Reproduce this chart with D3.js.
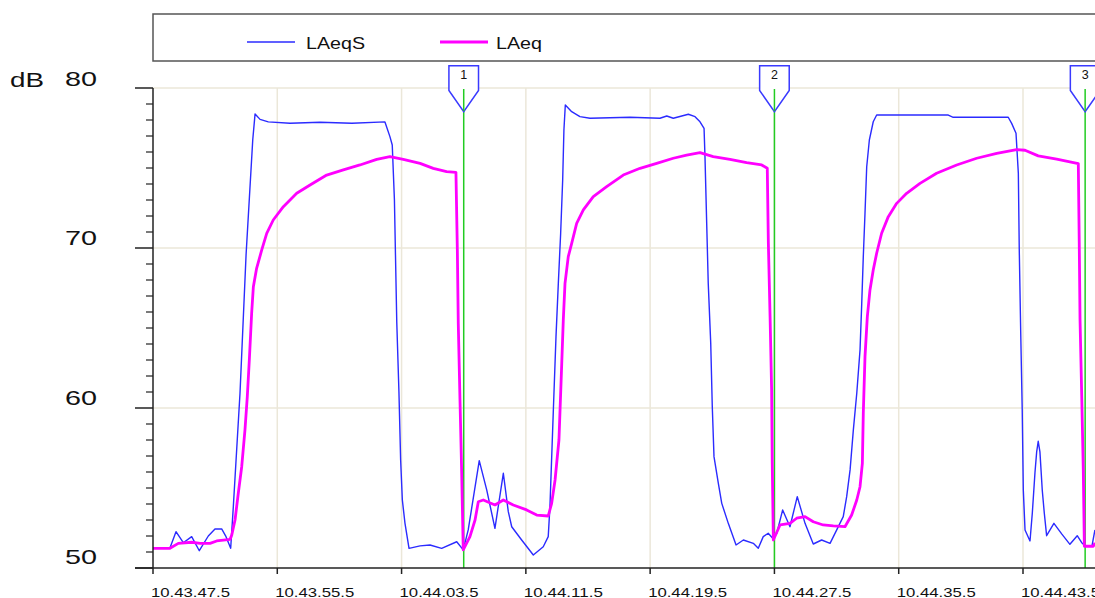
<!DOCTYPE html>
<html>
<head>
<meta charset="utf-8">
<script src="https://cdn.jsdelivr.net/npm/d3@7/dist/d3.min.js"></script>
<style>
  html, body { margin: 0; padding: 0; background: #fff; }
  svg { display: block; }
  text { font-family: "Liberation Sans", Arial, sans-serif; fill: #111; }
</style>
</head>
<body>
<svg id="chart" width="1095" height="598"></svg>
<script>
// ---- Data (time in seconds since 10.43.47.5, level in dB) ----
const xTickValues = [0, 8, 16, 24, 32, 40, 48, 56];
const xTickLabels = ["10.43.47.5","10.43.55.5","10.44.03.5","10.44.11.5","10.44.19.5","10.44.27.5","10.44.35.5","10.44.43.5"];
const yMajorTicks = [50, 60, 70, 80];
const yMinorTicks = [51,52,53,54,55,56,57,58,59,61,62,63,64,65,66,67,68,69,71,72,73,74,75,76,77,78,79];
const seriesNames = ["LAeqS", "LAeq"];
const markerTimes = [20, 40, 60];
const markerLabels = ["1", "2", "3"];

const lAeqS = [
 [0.00,51.25],[1.09,51.25],[1.48,52.27],[1.95,51.58],[2.49,51.96],[2.98,51.08],[3.56,52.00],[3.99,52.44],
 [4.42,52.44],[4.70,51.96],[5.00,51.23],[5.17,53.83],[5.60,60.92],[5.99,69.56],[6.42,76.75],[6.57,78.38],
 [6.89,78.04],[7.42,77.88],[8.82,77.80],[10.75,77.86],[12.8,77.80],[14.93,77.88],[15.25,76.96],[15.40,76.44],
 [15.54,73.00],[15.69,65.39],[15.83,61.02],[15.94,56.75],[16.05,54.25],[16.22,52.79],[16.48,51.23],[17.19,51.38],
 [17.83,51.44],[18.58,51.23],[19.55,51.64],[19.97,51.13],[20.29,52.38],[21.00,56.71],[21.48,54.88],[22.01,52.48],
 [22.55,55.92],[22.87,53.52],[23.09,52.58],[23.73,51.75],[24.48,50.81],[25.12,51.33],[25.44,51.96],[25.55,53.83],
 [25.77,59.88],[25.94,64.46],[26.09,67.79],[26.24,70.92],[26.37,74.25],[26.45,77.38],[26.54,78.94],[26.95,78.52],
 [27.48,78.21],[28.13,78.11],[30.70,78.17],[32.63,78.11],[33.07,78.25],[33.49,78.11],[34.46,78.36],[34.89,78.21],
 [35.21,77.89],[35.47,77.48],[35.53,75.71],[35.64,71.54],[35.74,67.79],[35.90,64.04],[36.00,60.08],[36.11,56.96],
 [36.39,55.29],[36.61,54.04],[37.03,52.79],[37.53,51.44],[38.00,51.75],[38.64,51.54],[38.96,51.23],[39.28,51.96],
 [39.60,52.17],[39.89,51.86],[40.15,52.17],[40.53,53.63],[41.00,52.58],[41.47,54.46],[41.97,52.79],[42.50,51.50],
 [43.04,51.75],[43.58,51.54],[44.01,52.38],[44.43,53.21],[44.65,54.46],[44.87,56.13],[45.08,58.63],[45.30,60.92],
 [45.51,63.63],[45.62,66.54],[45.72,69.46],[45.83,72.17],[45.94,75.08],[46.11,76.75],[46.36,77.89],[46.58,78.31],
 [51.19,78.31],[51.51,78.17],[55.05,78.17],[55.27,77.79],[55.55,77.17],[55.70,74.67],[55.76,69.88],[55.85,64.88],
 [55.95,59.88],[56.02,54.88],[56.13,52.38],[56.45,51.69],[56.60,53.44],[56.77,55.95],[56.88,57.26],[56.98,57.92],
 [57.09,57.26],[57.24,54.86],[57.37,53.44],[57.52,52.02],[57.99,52.79],[58.49,52.13],[59.02,51.48],[59.49,52.02],
 [59.78,51.58],[60.01,51.38],[60.44,51.38],[60.63,52.38]
];

const lAeq = [
 [0.00,51.23],[1.09,51.23],[1.63,51.54],[2.49,51.61],[3.03,51.54],[3.67,51.54],[4.10,51.69],[4.96,51.79],
 [5.07,52.06],[5.28,53.00],[5.49,54.67],[5.71,56.33],[5.92,58.63],[6.07,60.71],[6.20,63.00],[6.35,65.92],
 [6.46,67.58],[6.67,68.73],[7.00,69.88],[7.32,70.92],[7.74,71.75],[8.39,72.58],[9.25,73.42],[10.11,73.94],
 [11.18,74.56],[12.25,74.88],[13.32,75.19],[14.40,75.54],[15.25,75.71],[16.11,75.54],[17.19,75.29],[18.04,74.98],
 [18.90,74.77],[19.50,74.73],[19.59,69.88],[19.65,65.29],[19.76,60.50],[19.87,55.92],[19.97,51.13],[20.40,51.96],
 [20.73,53.00],[20.94,54.14],[21.26,54.25],[22.01,53.94],[22.55,54.25],[23.19,53.94],[24.05,53.63],[24.70,53.31],
 [25.44,53.25],[25.66,54.04],[25.88,55.50],[26.13,58.00],[26.31,62.79],[26.41,65.50],[26.52,67.79],[26.73,69.46],
 [26.95,70.29],[27.27,71.54],[27.70,72.38],[28.34,73.21],[29.20,73.83],[30.27,74.56],[31.35,74.98],[32.42,75.29],
 [33.49,75.61],[34.35,75.81],[35.21,75.96],[36.06,75.71],[37.14,75.54],[38.21,75.33],[39.18,75.19],[39.54,74.98],
 [39.61,70.29],[39.72,65.71],[39.82,61.13],[39.86,56.54],[39.93,51.75],[40.36,52.69],[41.00,52.79],[41.43,53.11],
 [41.97,53.21],[42.50,52.89],[43.14,52.69],[43.79,52.63],[44.54,52.58],[44.97,53.31],[45.30,54.25],[45.51,55.08],
 [45.66,56.54],[45.72,59.67],[45.83,63.21],[45.98,65.71],[46.15,67.38],[46.36,68.63],[46.58,69.67],[46.90,70.92],
 [47.33,71.96],[47.87,72.79],[48.51,73.42],[49.37,74.04],[50.44,74.67],[51.73,75.19],[53.02,75.61],[54.31,75.92],
 [55.59,76.15],[56.13,76.11],[56.98,75.76],[58.17,75.56],[59.56,75.28],[59.62,70.36],[59.67,65.56],[59.78,60.76],
 [59.88,56.17],[59.95,51.36],[60.53,51.36],[60.63,51.58]
];

(function draw() {
  const pL = 153, pR = 1095, pT = 88, pB = 568;
  const svg = d3.select("#chart");

  const x = d3.scaleLinear().domain([0, 56]).range([pL, 1023]);
  const y = d3.scaleLinear().domain([50, 80]).range([pB, pT]);

  const blue = "#2b2bff", magenta = "#ff00ff", green = "#22cc22", grid = "#ebe7d9";

  svg.append("defs").append("clipPath").attr("id", "plot")
    .append("rect").attr("x", pL).attr("y", pT - 1).attr("width", pR - pL).attr("height", pB - pT + 1);

  // gridlines
  svg.append("g").selectAll("line").data(xTickValues.slice(1)).join("line")
    .attr("x1", d => x(d)).attr("x2", d => x(d)).attr("y1", pT).attr("y2", pB)
    .attr("stroke", grid).attr("stroke-width", 1.5);
  svg.append("g").selectAll("line").data(yMajorTicks.slice(1)).join("line")
    .attr("x1", pL).attr("x2", pR).attr("y1", d => y(d)).attr("y2", d => y(d))
    .attr("stroke", grid).attr("stroke-width", 1.5);

  // legend box
  const lg = svg.append("g");
  lg.append("rect").attr("x", 153).attr("y", 14).attr("width", 1000).attr("height", 47)
    .attr("fill", "#fff").attr("stroke", "#555").attr("stroke-width", 1.5);
  const legendItems = [
    {name: seriesNames[0], color: blue, w: 1.4, x0: 247, tx: 306, tl: 59},
    {name: seriesNames[1], color: magenta, w: 2.8, x0: 440, tx: 496, tl: 46}
  ];
  legendItems.forEach(it => {
    lg.append("line").attr("x1", it.x0).attr("x2", it.x0 + 48).attr("y1", 42).attr("y2", 42)
      .attr("stroke", it.color).attr("stroke-width", it.w);
    lg.append("text").attr("x", it.tx).attr("y", 48.5).attr("font-size", 16.5)
      .attr("textLength", it.tl).attr("lengthAdjust", "spacingAndGlyphs").text(it.name);
  });

  // series
  const line = d3.line().x(d => x(d[0])).y(d => y(d[1]));
  const plot = svg.append("g").attr("clip-path", "url(#plot)");

  plot.selectAll("line.mk").data(markerTimes).join("line").attr("class", "mk")
    .attr("x1", d => x(d)).attr("x2", d => x(d)).attr("y1", pT).attr("y2", pB)
    .attr("stroke", green).attr("stroke-width", 1.5);

  plot.append("path").datum(lAeqS).attr("d", line).attr("fill", "none")
    .attr("stroke", blue).attr("stroke-width", 1.4).attr("stroke-linejoin", "round");
  plot.append("path").datum(lAeq).attr("d", line).attr("fill", "none")
    .attr("stroke", magenta).attr("stroke-width", 2.8).attr("stroke-linejoin", "round");

  // axes
  const ax = svg.append("g").attr("stroke", "#222");
  ax.append("line").attr("x1", pL).attr("x2", pL).attr("y1", pT).attr("y2", pB).attr("stroke-width", 1.5);
  ax.append("line").attr("x1", 135).attr("x2", pR).attr("y1", pB).attr("y2", pB).attr("stroke-width", 1.5);
  ax.selectAll("line.maj").data(yMajorTicks).join("line").attr("class", "maj")
    .attr("x1", 135).attr("x2", pL).attr("y1", d => y(d)).attr("y2", d => y(d)).attr("stroke-width", 1.5);
  ax.selectAll("line.min").data(yMinorTicks).join("line").attr("class", "min")
    .attr("x1", 146).attr("x2", pL).attr("y1", d => y(d)).attr("y2", d => y(d)).attr("stroke-width", 1.2);
  ax.selectAll("line.xt").data(xTickValues).join("line").attr("class", "xt")
    .attr("x1", d => x(d)).attr("x2", d => x(d)).attr("y1", pB).attr("y2", pB + 6).attr("stroke-width", 1.5);

  // y labels
  svg.append("g").selectAll("text").data(yMajorTicks).join("text")
    .attr("x", 65).attr("y", d => y(d) - 2 - (80 - d) / 15)
    .attr("font-size", 21).attr("textLength", 32).attr("lengthAdjust", "spacingAndGlyphs")
    .text(d => d);
  svg.append("text").attr("x", 10).attr("y", y(80) - 1.5).attr("font-size", 21)
    .attr("textLength", 34).attr("lengthAdjust", "spacingAndGlyphs").text("dB");

  // x labels
  svg.append("g").selectAll("text").data(xTickValues).join("text")
    .attr("x", d => x(d) - 2).attr("y", 597).attr("font-size", 13.5)
    .attr("textLength", 79).attr("lengthAdjust", "spacingAndGlyphs")
    .text((d, i) => xTickLabels[i]);

  // markers (flags)
  const mk = svg.append("g");
  markerTimes.forEach((t, i) => {
    const cx = x(t);
    const pts = [[cx - 14.8, 65.7], [cx + 14.8, 65.7], [cx + 14.8, 90.5], [cx, 111.7], [cx - 14.8, 90.5]];
    mk.append("path").attr("d", "M" + pts.map(p => p.join(",")).join("L") + "Z")
      .attr("fill", "#fff").attr("stroke", "#3a3aff").attr("stroke-width", 1.5);
    mk.append("line").attr("x1", cx).attr("x2", cx).attr("y1", pT + 1).attr("y2", 111)
      .attr("stroke", green).attr("stroke-width", 1.5);
    mk.append("text").attr("x", cx).attr("y", 78.5).attr("font-size", 12.5)
      .attr("text-anchor", "middle").text(markerLabels[i]);
  });
})();
</script>
</body>
</html>
